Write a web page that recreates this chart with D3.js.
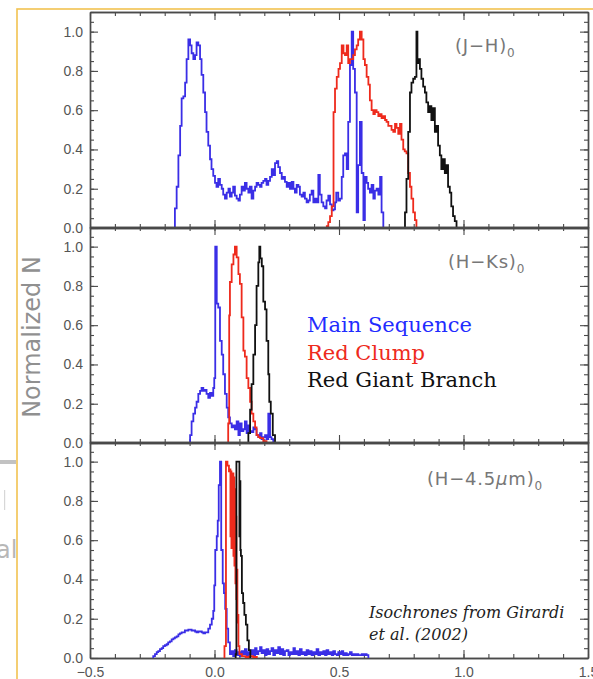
<!DOCTYPE html>
<html>
<head>
<meta charset="utf-8">
<script src="https://cdn.jsdelivr.net/npm/d3@7"></script>
<style>
  html, body { margin: 0; padding: 0; background: #fff; }
  svg { display: block; }
</style>
</head>
<body>
<div class="chart-container"></div>
<script>
const SVG_WIDTH = 593;
const SVG_HEIGHT = 679;

// x range shared by all panels, y is normalized counts
const xTicks = [-0.5, 0.0, 0.5, 1.0, 1.5];
const yTicks = [0.0, 0.2, 0.4, 0.6, 0.8, 1.0];

const panelLabels = ["(J\u2212H)", "(H\u2212Ks)", "(H\u22124.5\u00b5m)"];
const legendLabels = ["Main Sequence", "Red Clump", "Red Giant Branch"];

// [left bin edge, normalized N] — step histograms
const jhMainSeq = [
    [-0.159, 0.10], [-0.152, 0.21], [-0.145, 0.37], [-0.138, 0.52], [-0.132, 0.66], [-0.125, 0.67],
    [-0.118, 0.74], [-0.112, 0.86], [-0.105, 0.96], [-0.098, 0.93], [-0.092, 0.89], [-0.085, 0.86],
    [-0.078, 0.88], [-0.072, 0.945], [-0.065, 0.93], [-0.058, 0.86], [-0.052, 0.78], [-0.045, 0.69],
    [-0.038, 0.59], [-0.032, 0.49], [-0.025, 0.42], [-0.018, 0.35], [-0.012, 0.30], [-0.005, 0.265],
    [0.002, 0.23], [0.008, 0.21], [0.015, 0.25], [0.022, 0.22], [0.029, 0.20], [0.035, 0.17],
    [0.042, 0.15], [0.049, 0.18], [0.056, 0.20], [0.062, 0.16], [0.069, 0.18], [0.075, 0.21],
    [0.082, 0.165], [0.089, 0.15], [0.096, 0.14], [0.102, 0.17], [0.109, 0.21], [0.115, 0.19],
    [0.122, 0.23], [0.129, 0.20], [0.136, 0.18], [0.142, 0.21], [0.149, 0.15], [0.156, 0.19],
    [0.163, 0.21], [0.169, 0.23], [0.176, 0.22], [0.183, 0.21], [0.189, 0.23], [0.196, 0.24],
    [0.203, 0.25], [0.209, 0.22], [0.216, 0.24], [0.223, 0.26], [0.230, 0.30], [0.236, 0.27],
    [0.243, 0.33], [0.250, 0.34], [0.256, 0.31], [0.263, 0.28], [0.270, 0.25], [0.276, 0.26],
    [0.283, 0.235], [0.290, 0.21], [0.297, 0.23], [0.303, 0.20], [0.310, 0.235], [0.317, 0.20],
    [0.323, 0.18], [0.330, 0.22], [0.337, 0.21], [0.343, 0.17], [0.350, 0.16], [0.357, 0.18],
    [0.363, 0.15], [0.370, 0.13], [0.377, 0.14], [0.383, 0.17], [0.390, 0.19], [0.397, 0.13],
    [0.404, 0.15], [0.410, 0.13], [0.417, 0.27], [0.423, 0.17], [0.430, 0.13], [0.437, 0.11],
    [0.444, 0.10], [0.450, 0.14], [0.457, 0.165], [0.464, 0.12], [0.471, 0.09], [0.478, 0.095],
    [0.484, 0.13], [0.489, 0.18], [0.497, 0.14], [0.504, 0.15], [0.511, 0.26], [0.517, 0.37],
    [0.524, 0.38], [0.531, 0.30], [0.537, 0.54], [0.544, 0.83], [0.551, 1.00], [0.557, 0.81],
    [0.564, 0.69], [0.571, 0.08], [0.577, 0.32], [0.584, 0.54], [0.591, 0.28], [0.598, 0.04],
    [0.604, 0.26], [0.611, 0.23], [0.617, 0.20], [0.624, 0.18], [0.631, 0.22], [0.638, 0.15],
    [0.644, 0.19], [0.651, 0.20], [0.658, 0.17], [0.665, 0.26], [0.671, 0.08], [0.678, 0.00]
];
const jhRedClump = [
    [0.451, 0.01], [0.457, 0.03], [0.464, 0.06], [0.471, 0.11], [0.478, 0.59], [0.484, 0.71],
    [0.491, 0.77], [0.498, 0.81], [0.504, 0.84], [0.511, 0.93], [0.518, 0.89], [0.524, 0.88],
    [0.531, 0.93], [0.537, 0.84], [0.544, 0.86], [0.551, 0.86], [0.557, 0.88], [0.564, 0.91],
    [0.571, 0.93], [0.577, 0.96], [0.584, 1.00], [0.591, 0.96], [0.598, 0.86], [0.604, 0.83],
    [0.611, 0.77], [0.618, 0.73], [0.624, 0.65], [0.631, 0.60], [0.638, 0.58], [0.644, 0.60],
    [0.651, 0.59], [0.658, 0.57], [0.665, 0.58], [0.671, 0.56], [0.678, 0.57], [0.685, 0.55],
    [0.691, 0.54], [0.698, 0.52], [0.705, 0.52], [0.711, 0.50], [0.718, 0.49], [0.725, 0.53],
    [0.731, 0.51], [0.738, 0.48], [0.745, 0.53], [0.751, 0.45], [0.758, 0.40], [0.764, 0.39],
    [0.771, 0.38], [0.778, 0.28], [0.785, 0.21], [0.791, 0.15], [0.798, 0.08], [0.805, 0.04],
    [0.811, 0.00]
];
const jhRgb = [
    [0.765, 0.08], [0.771, 0.25], [0.778, 0.49], [0.785, 0.69], [0.791, 0.74], [0.798, 0.76],
    [0.805, 0.77], [0.811, 1.00], [0.815, 0.84], [0.820, 0.86], [0.825, 0.81], [0.831, 0.76],
    [0.838, 0.72], [0.845, 0.69], [0.851, 0.64], [0.858, 0.59], [0.865, 0.62], [0.871, 0.55],
    [0.878, 0.61], [0.885, 0.49], [0.892, 0.52], [0.898, 0.42], [0.905, 0.37], [0.911, 0.30],
    [0.918, 0.35], [0.925, 0.28], [0.932, 0.32], [0.938, 0.21], [0.945, 0.18], [0.951, 0.11],
    [0.958, 0.06], [0.965, 0.035], [0.972, 0.00]
];

const hkMainSeq = [
    [-0.098, 0.04], [-0.092, 0.11], [-0.085, 0.15], [-0.078, 0.18], [-0.072, 0.21], [-0.065, 0.25],
    [-0.058, 0.265], [-0.052, 0.28], [-0.045, 0.265], [-0.038, 0.27], [-0.032, 0.25], [-0.025, 0.23],
    [-0.018, 0.255], [-0.012, 0.24], [-0.005, 0.28], [-0.001, 0.33], [0.003, 1.00], [0.009, 0.71],
    [0.015, 0.69], [0.022, 0.52], [0.029, 0.45], [0.035, 0.35], [0.042, 0.25], [0.049, 0.18],
    [0.055, 0.13], [0.062, 0.10], [0.069, 0.08], [0.075, 0.09], [0.082, 0.07], [0.089, 0.11],
    [0.096, 0.04], [0.102, 0.10], [0.109, 0.06], [0.116, 0.07], [0.122, 0.11], [0.129, 0.05],
    [0.136, 0.09], [0.142, 0.06], [0.149, 0.055], [0.156, 0.08], [0.163, 0.07], [0.169, 0.04],
    [0.176, 0.03], [0.183, 0.05], [0.189, 0.02], [0.196, 0.03], [0.203, 0.04], [0.209, 0.02],
    [0.216, 0.15], [0.223, 0.03], [0.229, 0.02], [0.236, 0.00]
];
const hkRedClump = [
    [0.055, 0.10], [0.059, 0.65], [0.062, 0.82], [0.069, 0.91], [0.076, 0.96], [0.082, 1.00],
    [0.089, 0.945], [0.096, 0.86], [0.102, 0.81], [0.109, 0.64], [0.116, 0.47], [0.122, 0.44],
    [0.129, 0.33], [0.136, 0.28], [0.143, 0.21], [0.149, 0.15], [0.156, 0.11], [0.163, 0.08],
    [0.169, 0.04], [0.176, 0.03], [0.183, 0.025], [0.196, 0.01], [0.209, 0.00]
];
const hkRgb = [
    [0.136, 0.05], [0.143, 0.17], [0.149, 0.30], [0.156, 0.45], [0.163, 0.60], [0.169, 0.80],
    [0.176, 0.92], [0.180, 1.00], [0.184, 0.94], [0.190, 0.90], [0.196, 0.72], [0.203, 0.68],
    [0.209, 0.52], [0.216, 0.35], [0.220, 0.21], [0.226, 0.15], [0.234, 0.04], [0.243, 0.00]
];

const h45MainSeq = [
    [-0.246, 0.01], [-0.239, 0.02], [-0.232, 0.03], [-0.226, 0.035], [-0.219, 0.045], [-0.212, 0.05],
    [-0.206, 0.06], [-0.199, 0.065], [-0.192, 0.07], [-0.186, 0.08], [-0.179, 0.085], [-0.172, 0.095],
    [-0.165, 0.10], [-0.159, 0.105], [-0.152, 0.11], [-0.145, 0.12], [-0.139, 0.125], [-0.132, 0.13],
    [-0.125, 0.13], [-0.119, 0.14], [-0.112, 0.14], [-0.105, 0.145], [-0.098, 0.145], [-0.092, 0.14],
    [-0.085, 0.14], [-0.078, 0.135], [-0.072, 0.13], [-0.065, 0.135], [-0.058, 0.135], [-0.051, 0.13],
    [-0.045, 0.125], [-0.038, 0.13], [-0.031, 0.13], [-0.025, 0.15], [-0.018, 0.17], [-0.011, 0.20],
    [-0.005, 0.24], [-0.001, 0.37], [0.003, 0.55], [0.009, 0.62], [0.013, 0.70], [0.017, 0.88],
    [0.022, 1.00], [0.027, 0.55], [0.033, 0.38], [0.038, 0.33], [0.043, 0.25], [0.049, 0.15],
    [0.055, 0.08], [0.062, 0.02], [0.069, 0.035], [0.075, 0.01], [0.082, 0.04], [0.089, 0.015],
    [0.095, 0.03], [0.102, 0.01], [0.109, 0.035], [0.116, 0.02], [0.122, 0.045], [0.129, 0.015],
    [0.136, 0.03], [0.142, 0.02], [0.149, 0.04], [0.156, 0.015], [0.163, 0.05], [0.169, 0.02],
    [0.176, 0.035], [0.183, 0.055], [0.189, 0.025], [0.196, 0.04], [0.203, 0.015], [0.209, 0.045],
    [0.216, 0.02], [0.223, 0.035], [0.229, 0.05], [0.236, 0.015], [0.243, 0.04], [0.250, 0.025],
    [0.256, 0.055], [0.263, 0.02], [0.270, 0.045], [0.276, 0.015], [0.283, 0.035], [0.290, 0.04],
    [0.297, 0.015], [0.303, 0.03], [0.310, 0.02], [0.317, 0.05], [0.323, 0.02], [0.330, 0.035],
    [0.337, 0.015], [0.343, 0.045], [0.350, 0.02], [0.357, 0.03], [0.363, 0.015], [0.370, 0.04],
    [0.377, 0.02], [0.383, 0.035], [0.390, 0.015], [0.397, 0.03], [0.404, 0.02], [0.410, 0.045],
    [0.417, 0.015], [0.424, 0.03], [0.430, 0.02], [0.437, 0.035], [0.444, 0.015], [0.450, 0.04],
    [0.457, 0.02], [0.464, 0.03], [0.471, 0.015], [0.477, 0.035], [0.484, 0.02], [0.491, 0.015],
    [0.497, 0.03], [0.504, 0.02], [0.511, 0.035], [0.517, 0.015], [0.524, 0.025], [0.531, 0.015],
    [0.538, 0.02], [0.544, 0.03], [0.551, 0.015], [0.558, 0.02], [0.564, 0.015], [0.571, 0.02],
    [0.578, 0.015], [0.584, 0.015], [0.591, 0.02], [0.598, 0.015], [0.604, 0.02], [0.611, 0.015],
    [0.618, 0.00]
];
const h45RedClump = [
    [0.040, 0.06], [0.046, 1.00], [0.052, 0.98], [0.058, 0.95], [0.062, 0.96], [0.064, 0.62],
    [0.066, 0.95], [0.068, 0.56], [0.070, 0.94], [0.072, 0.64], [0.074, 0.94], [0.076, 0.52],
    [0.078, 0.92], [0.080, 0.47], [0.082, 0.86], [0.084, 0.38], [0.086, 0.72], [0.088, 0.30],
    [0.090, 0.45], [0.092, 0.18], [0.094, 0.22], [0.096, 0.06], [0.100, 0.02], [0.110, 0.01],
    [0.125, 0.005], [0.140, 0.01], [0.155, 0.005], [0.170, 0.00]
];
const h45Rgb = [
    [0.085, 0.02], [0.088, 1.00], [0.100, 0.62], [0.102, 0.90], [0.104, 0.55], [0.106, 0.52],
    [0.110, 0.33], [0.115, 0.28], [0.120, 0.22], [0.126, 0.17], [0.132, 0.09], [0.138, 0.04],
    [0.144, 0.00]
];

const panels = [
    { label: panelLabels[0], series: [jhMainSeq, jhRedClump, jhRgb], labelX: 455, labelY: 52 },
    { label: panelLabels[1], series: [hkMainSeq, hkRedClump, hkRgb], labelX: 448, labelY: 268 },
    { label: panelLabels[2], series: [h45MainSeq, h45RedClump, h45Rgb], labelX: 427, labelY: 485 }
];

const seriesColours = ["#3a2ee6", "#ee2a1c", "#111111"];
const legendColours = ["#1f2cff", "#ee2a1c", "#111111"];

const plotLeft = 90;
const plotRight = 588;
const panelTops = [12, 227, 442];
const panelHeight = 216;
const axisColour = "#4a4a4a";
const labelColour = "#555";

const svg = d3.select(".chart-container")
    .append("svg")
    .attr("width", SVG_WIDTH)
    .attr("height", SVG_HEIGHT);

// yellow frame of the slide
svg.append("rect")
    .attr("x", 17)
    .attr("y", 9)
    .attr("width", 620)
    .attr("height", 700)
    .attr("fill", "none")
    .attr("stroke", "#f2c250")
    .attr("stroke-width", 1.6);

// scanned bits peeking out to the left of the frame
const scraps = svg.append("g").attr("fill", "#9a9a9a");
scraps.append("rect").attr("x", 0).attr("y", 460).attr("width", 16).attr("height", 4).attr("opacity", 0.6);
scraps.append("rect").attr("x", 4).attr("y", 490).attr("width", 1.2).attr("height", 20).attr("opacity", 0.4);
svg.append("clipPath").attr("id", "scrapClip")
    .append("rect").attr("x", 0).attr("y", 530).attr("width", 16).attr("height", 40);
scraps.append("text")
    .attr("x", -4)
    .attr("y", 558)
    .attr("clip-path", "url(#scrapClip)")
    .style("font-family", "DejaVu Sans")
    .style("font-size", "24px")
    .attr("opacity", 0.7)
    .text("al");

const x = d3.scaleLinear().domain([-0.5, 1.5]).range([plotLeft, plotRight]);

const xMinor = d3.range(-5, 16).map(d => d / 10);
const yMinor = d3.range(0, 23).map(d => d / 20);

function styleAxis(g) {
    g.select(".domain").attr("stroke", axisColour).attr("stroke-width", 1.4);
    g.selectAll(".tick line").attr("stroke", axisColour).attr("stroke-width", 1.1);
    g.selectAll(".tick text")
        .attr("fill", labelColour)
        .style("font-family", "Liberation Sans, Arial, sans-serif")
        .style("font-size", "14px");
}

function drawPanel(panel, index) {
    const top = panelTops[index];
    const bottom = top + panelHeight;
    const y = d3.scaleLinear().domain([0, 1.1]).range([bottom, top]);

    const holder = svg.append("g");

    // minor ticks on all sides
    holder.append("g").attr("transform", `translate(0,${bottom})`)
        .call(d3.axisBottom(x).tickValues(xMinor).tickSize(-4).tickSizeOuter(0).tickFormat(""))
        .call(styleAxis);
    holder.append("g").attr("transform", `translate(0,${top})`)
        .call(d3.axisTop(x).tickValues(xMinor).tickSize(-4).tickSizeOuter(0).tickFormat(""))
        .call(styleAxis);
    holder.append("g").attr("transform", `translate(${plotLeft},0)`)
        .call(d3.axisLeft(y).tickValues(yMinor).tickSize(-4).tickSizeOuter(0).tickFormat(""))
        .call(styleAxis);
    holder.append("g").attr("transform", `translate(${plotRight},0)`)
        .call(d3.axisRight(y).tickValues(yMinor).tickSize(-4).tickSizeOuter(0).tickFormat(""))
        .call(styleAxis);

    // major ticks
    const lastPanel = index === panels.length - 1;
    holder.append("g").attr("transform", `translate(0,${bottom})`)
        .call(d3.axisBottom(x).tickValues(xTicks).tickSize(-8).tickSizeOuter(0).tickPadding(9)
            .tickFormat(lastPanel ? d3.format(".1f") : ""))
        .call(styleAxis);
    holder.append("g").attr("transform", `translate(0,${top})`)
        .call(d3.axisTop(x).tickValues(xTicks).tickSize(-8).tickSizeOuter(0).tickFormat(""))
        .call(styleAxis);
    holder.append("g").attr("transform", `translate(${plotLeft},0)`)
        .call(d3.axisLeft(y).tickValues(yTicks).tickSize(-8).tickSizeOuter(0).tickPadding(7)
            .tickFormat(d3.format(".1f")))
        .call(styleAxis);
    holder.append("g").attr("transform", `translate(${plotRight},0)`)
        .call(d3.axisRight(y).tickValues(yTicks).tickSize(-8).tickSizeOuter(0).tickFormat(""))
        .call(styleAxis);

    const line = d3.line()
        .x(d => x(d[0]))
        .y(d => y(d[1]))
        .curve(d3.curveStepAfter);

    panel.series.forEach((values, i) => {
        const pts = [[values[0][0], 0]].concat(values);
        holder.append("path")
            .attr("d", line(pts))
            .attr("fill", "none")
            .attr("stroke", seriesColours[i])
            .attr("stroke-width", 1.8)
            .attr("stroke-linejoin", "miter");
    });

    const label = holder.append("text")
        .attr("x", panel.labelX)
        .attr("y", panel.labelY)
        .attr("fill", "#777")
        .style("font-family", "DejaVu Sans, sans-serif")
        .style("font-size", "18px")
        .style("letter-spacing", "0.8px");
    if (panel.label.includes("\u00b5")) {
        const [pre, post] = panel.label.split("\u00b5");
        label.append("tspan").text(pre);
        label.append("tspan").style("font-style", "italic").text("\u00b5");
        label.append("tspan").text(post);
    } else {
        label.append("tspan").text(panel.label);
    }
    label.append("tspan")
        .attr("dy", 5)
        .style("font-size", "12px")
        .text("0");
}

panels.forEach(drawPanel);

// y title
svg.append("text")
    .attr("transform", "translate(40,337) rotate(-90)")
    .attr("text-anchor", "middle")
    .attr("fill", "#909090")
    .style("font-family", "DejaVu Sans, sans-serif")
    .style("font-size", "24px")
    .text("Normalized N");

// legend
const legendY = [332, 360, 387];
legendLabels.forEach((name, i) => {
    svg.append("text")
        .attr("x", 307)
        .attr("y", legendY[i])
        .attr("fill", legendColours[i])
        .style("font-family", "DejaVu Serif, serif")
        .style("font-size", "21px")
        .text(name);
});

// isochrone note
const note = svg.append("text")
    .attr("fill", "#222")
    .style("font-family", "DejaVu Serif, serif")
    .style("font-style", "italic")
    .style("font-size", "16px");
note.append("tspan").attr("x", 369).attr("y", 618).text("Isochrones from Girardi");
note.append("tspan").attr("x", 369).attr("y", 640).text("et al. (2002)");
</script>
</body>
</html>
